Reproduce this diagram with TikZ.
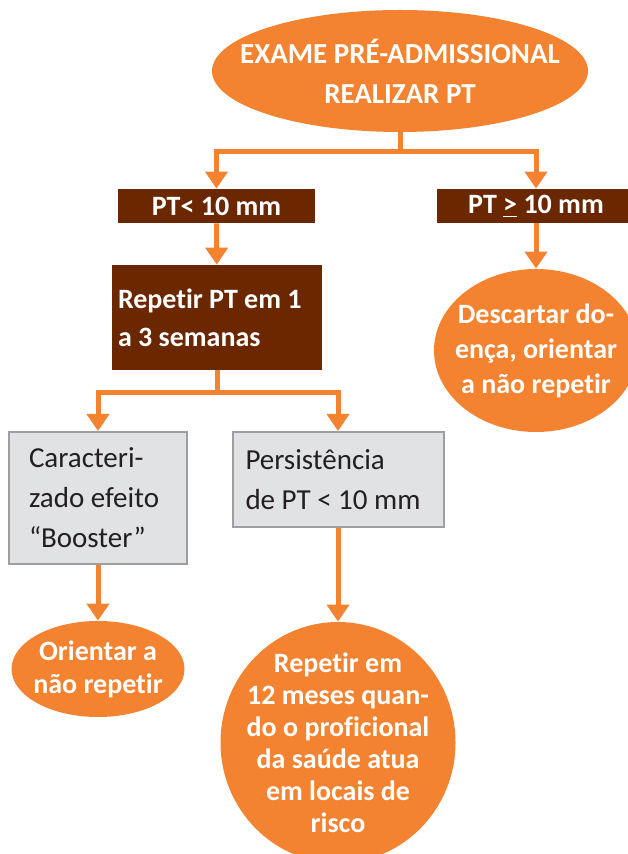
\documentclass[tikz,border=0pt]{standalone}
\usepackage{fontspec}
\setmainfont{Carlito}[Ligatures=NoCommon]
\usepackage{tikz}
\usetikzlibrary{shapes, arrows.meta}
\definecolor{ptorange}{HTML}{F38331}
\definecolor{ptbrown}{HTML}{6A2700}
\definecolor{boxfill}{HTML}{E1E2E4}
\definecolor{boxrule}{HTML}{9D9FA2}
\definecolor{boxtext}{HTML}{231F20}
\tikzstyle{oval} = [ellipse, fill=ptorange, text=white, align=center, inner sep=-40pt]
\tikzstyle{bbox} = [rectangle, fill=ptbrown, text=white, inner sep=0pt, font=\fontsize{14}{19}\selectfont\bfseries]
\tikzstyle{gbox} = [rectangle, fill=boxfill, draw=boxrule, line width=1pt, text=boxtext, align=flush left, inner ysep=0pt, font=\fontsize{14.5}{20}\selectfont]
\tikzstyle{line} = [draw=ptorange, line width=2.5pt]
\tikzstyle{arrow} = [line, -{Triangle[width=11pt, length=8.5pt]}]

\begin{document}
\begin{tikzpicture}[x=0.5pt, y=-0.5pt]
			\useasboundingbox (0,0) rectangle (627,854);
			\node [oval, minimum width=188pt, minimum height=61pt, font=\fontsize{14.5}{20}\selectfont\bfseries] (top) at (400,71) {EXAME PRÉ-ADMISSIONAL\\REALIZAR PT};
			\node [bbox, minimum width=98.5pt, minimum height=17pt] (ptless) at (216.5,206) {PT< 10 mm};
			\node [bbox, minimum width=99pt, minimum height=17pt] (ptgeq) at (536,206) {PT \underline{>} 10 mm};
			\node [bbox, text width=99pt, align=flush left, inner xsep=3pt, minimum height=52.5pt] (repetir) at (217,317.5) {Repetir PT em 1\\a 3 semanas};
			\node [oval, minimum width=102pt, minimum height=81.5pt, font=\fontsize{14}{17.5}\selectfont\bfseries] (descartar) at (536,350.5) {Descartar do-\\ença, orientar\\a não repetir};
			\node [gbox, text width=69pt, inner xsep=10pt, minimum height=66pt] (booster) at (98,498) {Caracteri-\\zado efeito\\“Booster”};
			\node [gbox, text width=92.5pt, inner xsep=6.5pt, minimum height=47.5pt] (persist) at (338,479.5) {Persistência\\de PT < 10 mm};
			\node [oval, minimum width=86.5pt, minimum height=48pt, font=\fontsize{14}{16.5}\selectfont\bfseries] (orientar) at (98,669) {Orientar a\\não repetir};
			\node [oval, minimum width=117.5pt, minimum height=120.5pt, font=\fontsize{14}{16}\selectfont\bfseries] (repetir12) at (338,742.5) {Repetir em\\12 meses quan-\\do o proficional\\da saúde atua\\em locais de\\risco};
			\coordinate (j1) at (400,152);
			\coordinate (j2) at (217,393);
			
			\path [line] (top) -- (j1);
			\path [arrow] (j1) -| (ptless);
			\path [arrow] (j1) -| (ptgeq);
			\path [arrow] (ptless) -- (repetir);
			\path [arrow] (ptgeq) -- (descartar);
			\path [line] (repetir) -- (j2);
			\path [arrow] (j2) -| (booster);
			\path [arrow] (j2) -| (persist);
			\path [arrow] (booster) -- (orientar);
			\path [arrow] (persist) -- (repetir12);
		\end{tikzpicture}
\end{document}
